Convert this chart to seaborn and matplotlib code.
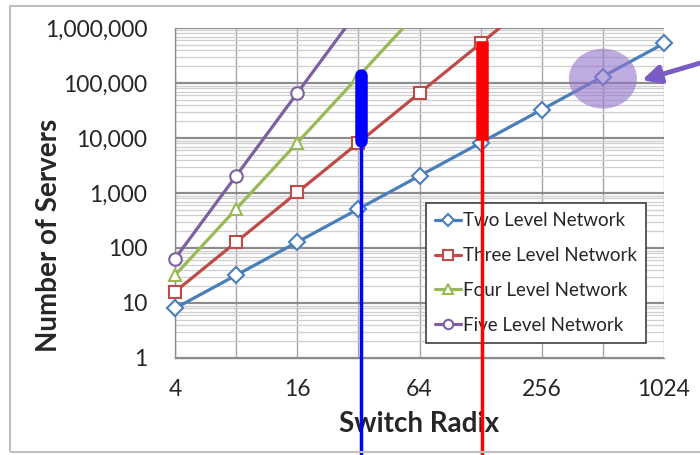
import numpy as np
import pandas as pd
import matplotlib
matplotlib.use("Agg")
import matplotlib.pyplot as plt
import seaborn as sns
from matplotlib.patches import Rectangle
from matplotlib.path import Path
from matplotlib.ticker import LogLocator, NullFormatter, NullLocator

# ---------------- data ----------------
radix = [4, 8, 16, 32, 64, 128, 256, 512, 1024]
two_level = [8, 32, 128, 512, 2048, 8192, 32768, 131072, 524288]
three_level = [16, 128, 1024, 8192, 65536, 524288, 4194304]
four_level = [32, 512, 8192, 131072, 2097152]
five_level = [64, 2048, 65536, 2097152]
series_names = ["Two Level Network", "Three Level Network",
                "Four Level Network", "Five Level Network"]

x_tick_values = [4, 8, 16, 32, 64, 128, 256, 512, 1024]
x_tick_labels = ["4", "", "16", "", "64", "", "256", "", "1024"]
y_tick_values = [1, 10, 100, 1000, 10000, 100000, 1000000]
y_tick_labels = ["1", "10", "100", "1,000", "10,000", "100,000", "1,000,000"]

# annotation marks
blue_bar_x = 33
blue_bar_y = [9000, 140000]
red_bar_x = 130
red_bar_y = [12000, 450000]
highlight_x = [512]
highlight_y = [120000]

# ---------------- build table ----------------
rows = []
for name, vals in zip(series_names, [two_level, three_level, four_level, five_level]):
    for r, v in zip(radix, vals):
        rows.append({"network": name, "radix": r, "servers": v})
df = pd.DataFrame(rows)

sns.set_theme(style="white")
plt.rcParams["font.family"] = ["Lato", "DejaVu Sans"]

fig = plt.figure(figsize=(7, 4.55), dpi=100)
ax = fig.add_axes([0.25, 0.2132, 0.6986, 0.7253])

colors = ["#4A7EBB", "#BE4B48", "#98B954", "#7D60A0"]
markers = ["D", "s", "^", "o"]
msizes = [8, 9, 9, 9]

for name, c, m, ms in zip(series_names, colors, markers, msizes):
    sub = df[df["network"] == name]
    sns.lineplot(data=sub, x="radix", y="servers", ax=ax, color=c,
                 marker=m, markersize=ms, markerfacecolor="white",
                 markeredgecolor=c, markeredgewidth=1.5, lw=2.3,
                 errorbar=None, legend=False, zorder=3)

ax.set_xscale("log", base=2)
ax.set_yscale("log")
ax.set_xlim(4, 1024)
ax.set_ylim(1, 1e6)

# clip lines at top of plot but let edge markers show fully
for line in ax.lines:
    line.set_clip_path(Rectangle((-0.06, 0.0), 1.12, 1.0, transform=ax.transAxes))

ax.set_xticks(x_tick_values)
ax.set_xticklabels(x_tick_labels)
ax.xaxis.set_minor_locator(NullLocator())
ax.set_yticks(y_tick_values)
ax.set_yticklabels(y_tick_labels)
ax.yaxis.set_minor_locator(LogLocator(base=10, subs=np.arange(2, 10)))
ax.yaxis.set_minor_formatter(NullFormatter())

ax.tick_params(axis="both", which="major", length=7, width=1, color="#8C8C8C",
               direction="out", labelsize=16.5, labelcolor="#262626")
ax.tick_params(axis="x", which="major", pad=8)
ax.tick_params(axis="y", which="major", pad=13)
ax.tick_params(axis="y", which="minor", length=0)

ax.set_axisbelow(True)
ax.grid(True, which="major", axis="y", color="#8C8C8C", lw=1.6)
ax.grid(True, which="minor", axis="y", color="#CFCFCF", lw=0.9)
ax.grid(True, which="major", axis="x", color="#A6A6A6", lw=1.0)

for s in ["top", "right"]:
    ax.spines[s].set_visible(False)
for s in ["left", "bottom"]:
    ax.spines[s].set_color("#8C8C8C")
    ax.spines[s].set_linewidth(1.0)

ax.set_xlabel("Switch Radix", fontsize=20, fontweight="bold", color="#262626")
ax.set_ylabel("Number of Servers", fontsize=20, fontweight="bold", color="#262626")
ax.xaxis.set_label_coords(0.5, -0.16)
ax.yaxis.set_label_coords(-0.231, 0.373)

handles = ax.lines[:4]
leg = ax.legend(handles, series_names, loc="lower right",
                bbox_to_anchor=(0.963, 0.045), frameon=True, fancybox=False,
                edgecolor="#404040", framealpha=1, fontsize=13.5,
                handlelength=1.35, handletextpad=0.1, labelspacing=0.95,
                borderpad=0.5, markerscale=0.75, borderaxespad=0)
leg.get_frame().set_linewidth(1.2)
for t in leg.get_texts():
    t.set_color("#262626")

# annotation bars
ax.plot([blue_bar_x, blue_bar_x], [1e-3, blue_bar_y[0]], color="#0000FF",
        lw=2.5, clip_on=False, zorder=10, solid_capstyle="butt")
ax.plot([blue_bar_x, blue_bar_x], blue_bar_y, color="#0000FF",
        lw=9, clip_on=False, zorder=10, solid_capstyle="round")
ax.plot([red_bar_x, red_bar_x], [1e-3, red_bar_y[0]], color="#FF0000",
        lw=2.5, clip_on=False, zorder=10, solid_capstyle="butt")
ax.plot([red_bar_x, red_bar_x], red_bar_y, color="#FF0000",
        lw=9, clip_on=False, zorder=10, solid_capstyle="projecting")

circ = Path.unit_circle()
ellipse_marker = Path(circ.vertices * np.array([1.0, 0.88]), circ.codes)
ax.scatter(highlight_x, highlight_y, s=2400, marker=ellipse_marker,
           color="#9474CC", alpha=0.6, edgecolors="none", zorder=9, clip_on=False)
ax.annotate("", xy=(0.955, 0.842), xycoords="axes fraction",
            xytext=(1.1, 0.905), textcoords="axes fraction",
            arrowprops=dict(arrowstyle="-|>,head_width=0.45,head_length=0.9",
                            color="#7B5BC6", lw=3.5, shrinkA=0, shrinkB=0),
            annotation_clip=False)

fig.patches.append(Rectangle((10 / 700, 3 / 455), 0.99, 446 / 455,
                             transform=fig.transFigure, fill=False,
                             edgecolor="#BFBFBF", lw=1.5))

fig.savefig("out.png", dpi=100)
